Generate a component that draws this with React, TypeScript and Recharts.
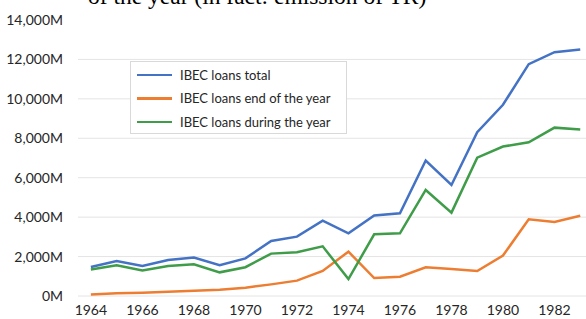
import React from 'react';
import { LineChart, Line, XAxis, YAxis, CartesianGrid, Legend } from 'recharts';

const years = [1964, 1965, 1966, 1967, 1968, 1969, 1970, 1971, 1972, 1973, 1974, 1975, 1976, 1977, 1978, 1979, 1980, 1981, 1982, 1983];
const loansTotal = [1470, 1780, 1520, 1830, 1950, 1560, 1910, 2790, 3010, 3820, 3180, 4080, 4200, 6870, 5630, 8310, 9700, 11760, 12370, 12500];
const loansEndOfYear = [80, 140, 170, 220, 270, 320, 420, 590, 780, 1270, 2250, 910, 980, 1460, 1370, 1270, 2050, 3890, 3760, 4070];
const loansDuringYear = [1340, 1560, 1300, 1520, 1610, 1200, 1460, 2150, 2220, 2520, 860, 3130, 3180, 5380, 4230, 7020, 7580, 7800, 8540, 8450];

const seriesNames = ['IBEC loans total', 'IBEC loans end of the year', 'IBEC loans during the year'];
const xTicks = [1964, 1966, 1968, 1970, 1972, 1974, 1976, 1978, 1980, 1982];
const gridYears = [1965.5, 1967.5, 1969.5, 1971.5, 1973.5, 1975.5, 1977.5, 1979.5, 1981.5, 1983.5];
const yTicks = [0, 2000, 4000, 6000, 8000, 10000, 12000, 14000];
const yGridValues = [0, 2000, 4000, 6000, 8000, 10000, 12000];

const data = years.map((year, i) => ({
  year,
  total: loansTotal[i],
  endOfYear: loansEndOfYear[i],
  duringYear: loansDuringYear[i],
}));

const FONT = 'Lato, "Open Sans", sans-serif';

const LegendBox = ({ payload }: { payload?: any[] }) => {
  // keep series order, not alphabetical
  const items = [...(payload || [])].sort((a, b) => seriesNames.indexOf(a.value) - seriesNames.indexOf(b.value));
  return (
    <div
      style={{
        width: 217,
        height: 73,
        background: '#fff',
        border: '1px solid #d9d9d9',
        boxSizing: 'border-box',
        paddingTop: 1,
        fontFamily: FONT,
        fontSize: 13,
        color: '#262626',
      }}
    >
      {items.map((p) => (
        <div key={p.value} style={{ height: 23.5, display: 'flex', alignItems: 'center' }}>
          <div style={{ width: 35, height: 2.5, background: p.color, marginLeft: 6, marginRight: 8 }} />
          <span>{p.value}</span>
        </div>
      ))}
    </div>
  );
};

export default function App() {
  return (
    <div style={{ position: 'absolute', left: 0, top: 0, width: 586, height: 319, overflow: 'hidden', background: '#fff' }}>
      <svg width={586} height={20} style={{ position: 'absolute', left: 0, top: 0 }}>
        <text x={88} y={4} fontFamily='"Liberation Serif", "Times New Roman", serif' fontSize={23.5} fill="#000">
          of the year (in fact: emission of TR)
        </text>
      </svg>
      <LineChart width={620} height={319} data={data} margin={{ top: 20, right: 14, bottom: 0, left: 0 }}>
        <CartesianGrid
          stroke="#e4e4e4"
          strokeWidth={1}
          horizontalValues={yGridValues}
          verticalCoordinatesGenerator={({ xAxis }: any) =>
            xAxis && typeof xAxis.scale === 'function' ? gridYears.map((v) => xAxis.scale(v)) : []
          }
        />
        <XAxis
          dataKey="year"
          type="number"
          domain={[1963.5, 1983.5]}
          ticks={xTicks}
          interval={0}
          allowDecimals={false}
          axisLine={false}
          tickLine={false}
          tickSize={6}
          tickMargin={3}
          height={23}
          tick={{ fill: '#262626', fontSize: 14, fontFamily: FONT }}
        />
        <YAxis
          type="number"
          domain={[0, 14000]}
          ticks={yTicks}
          interval={0}
          width={78}
          axisLine={false}
          tickLine={false}
          tickSize={6}
          tickMargin={9}
          tickFormatter={(v: number) => `${v.toLocaleString('en-US')}M`}
          tick={{ fill: '#262626', fontSize: 14, fontFamily: FONT }}
        />
        <Legend
          layout="vertical"
          align="center"
          verticalAlign="middle"
          itemSorter={null as any}
          wrapperStyle={{ position: 'absolute', left: 130, top: 61, width: 217 }}
          content={(props: any) => <LegendBox payload={props.payload} />}
        />
        <Line type="linear" dataKey="total" name={seriesNames[0]} stroke="#4472c4" strokeWidth={2.5} dot={false} isAnimationActive={false} />
        <Line type="linear" dataKey="endOfYear" name={seriesNames[1]} stroke="#ed7d31" strokeWidth={2.5} dot={false} isAnimationActive={false} />
        <Line type="linear" dataKey="duringYear" name={seriesNames[2]} stroke="#3f9c49" strokeWidth={2.5} dot={false} isAnimationActive={false} />
      </LineChart>
    </div>
  );
}
